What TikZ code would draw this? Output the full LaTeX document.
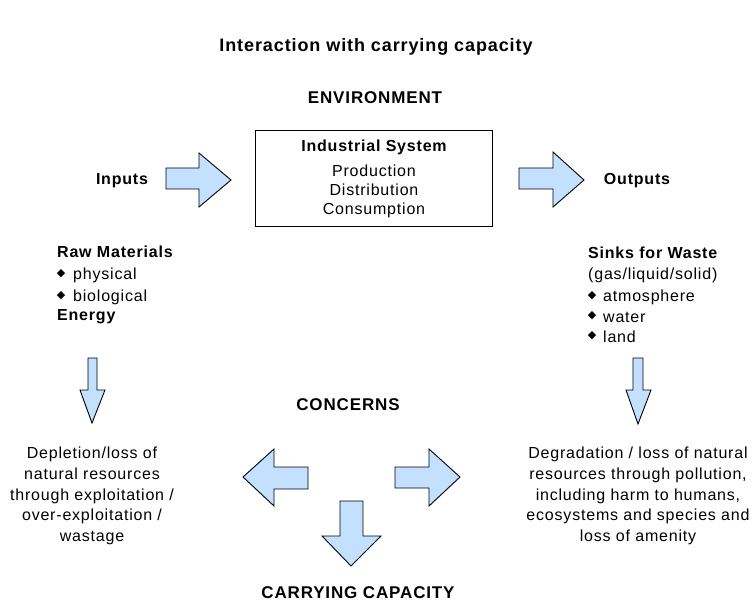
\documentclass[tikz,border=0pt]{standalone}
\usepackage{fontspec}
\setmainfont{Liberation Sans}[LetterSpace=5]
\newfontfamily\symfont{DejaVu Sans}
\definecolor{arrowblue}{RGB}{196,224,255}
\begin{document}
\begin{tikzpicture}[x=1pt,y=-1pt,
  barrow/.style={draw=black,fill=arrowblue,line width=0.9pt,line join=miter},
  txt/.style={inner sep=0pt,font=\fontsize{16}{20}\selectfont},
  btxt/.style={inner sep=0pt,font=\fontsize{16}{20}\selectfont\bfseries},
  head/.style={inner sep=0pt,font=\fontsize{17}{20}\selectfont\bfseries},
  para/.style={inner sep=0pt,align=center,font=\fontsize{16}{20.8}\selectfont},
  bul/.style={inner sep=0pt,font=\fontsize{11}{12}\symfont}]
\useasboundingbox (0,0) rectangle (753,604);

% titles
\node[head,font=\fontsize{18}{20}\selectfont\bfseries] (title) at (376,47) {Interaction with carrying capacity};
\node[head] (env) at (375,98) {ENVIRONMENT};
\node[head] (conc) at (348,405) {CONCERNS};
\node[head] (cc) at (358,593) {CARRYING CAPACITY};

% industrial system box
\draw[line width=0.9pt] (255,130) rectangle (492,226);
\node[btxt] (ind) at (374,147) {Industrial System};
\node[txt] (prod) at (374,171) {Production};
\node[txt] (dist) at (374,190) {Distribution};
\node[txt] (cons) at (374,210) {Consumption};

% inputs / outputs
\node[btxt] (inp) at (122,181) {Inputs};
\node[btxt] (outp) at (637,181) {Outputs};
\draw[barrow] (166,168) -- (199,168) -- (199,153) -- (231,180) -- (199,207) -- (199,189) -- (166,189) -- cycle;
\draw[barrow] (519,168) -- (553,168) -- (553,152) -- (584,180) -- (553,207) -- (553,189) -- (519,189) -- cycle;

% left list
\node[btxt,anchor=west] (raw) at (57,252) {Raw Materials};
\node[bul] (b1) at (61,274) {◆};
\node[txt,anchor=west] (phys) at (73,275) {physical};
\node[bul] (b2) at (61,296) {◆};
\node[txt,anchor=west] (bio) at (73,297) {biological};
\node[btxt,anchor=west] (en) at (57,317) {Energy};

% right list
\node[btxt,anchor=west] (sinks) at (588,253) {Sinks for Waste};
\node[txt,anchor=west] (gas) at (588,275) {(gas/liquid/solid)};
\node[bul] (b3) at (592,296) {◆};
\node[txt,anchor=west] (atm) at (603,297) {atmosphere};
\node[bul] (b4) at (592,316) {◆};
\node[txt,anchor=west] (wat) at (603,317) {water};
\node[bul] (b5) at (592,336) {◆};
\node[txt,anchor=west] (land) at (603,337) {land};

% down arrows from lists
\draw[barrow] (88,358) -- (97,358) -- (97,390) -- (105,390) -- (92,423) -- (80,390) -- (88,390) -- cycle;
\draw[barrow] (633,358) -- (643,358) -- (643,390) -- (651,390) -- (638,424) -- (626,390) -- (633,390) -- cycle;

% concerns texts
\node[para] (dep) at (92,496) {Depletion/loss of\\natural resources\\through exploitation /\\over-exploitation /\\wastage};
\node[para] (deg) at (638,496) {Degradation / loss of natural\\resources through pollution,\\including harm to humans,\\ecosystems and species and\\loss of amenity};

% bottom arrows
\draw[barrow] (308,467) -- (274,467) -- (274,449) -- (243,477) -- (274,506) -- (274,489) -- (308,489) -- cycle;
\draw[barrow] (395,467) -- (429,467) -- (429,449) -- (460,477) -- (429,506) -- (429,488) -- (395,488) -- cycle;
\draw[barrow] (340,501) -- (363,501) -- (363,536) -- (381,536) -- (351,566) -- (322,536) -- (340,536) -- cycle;
\end{tikzpicture}
\end{document}
